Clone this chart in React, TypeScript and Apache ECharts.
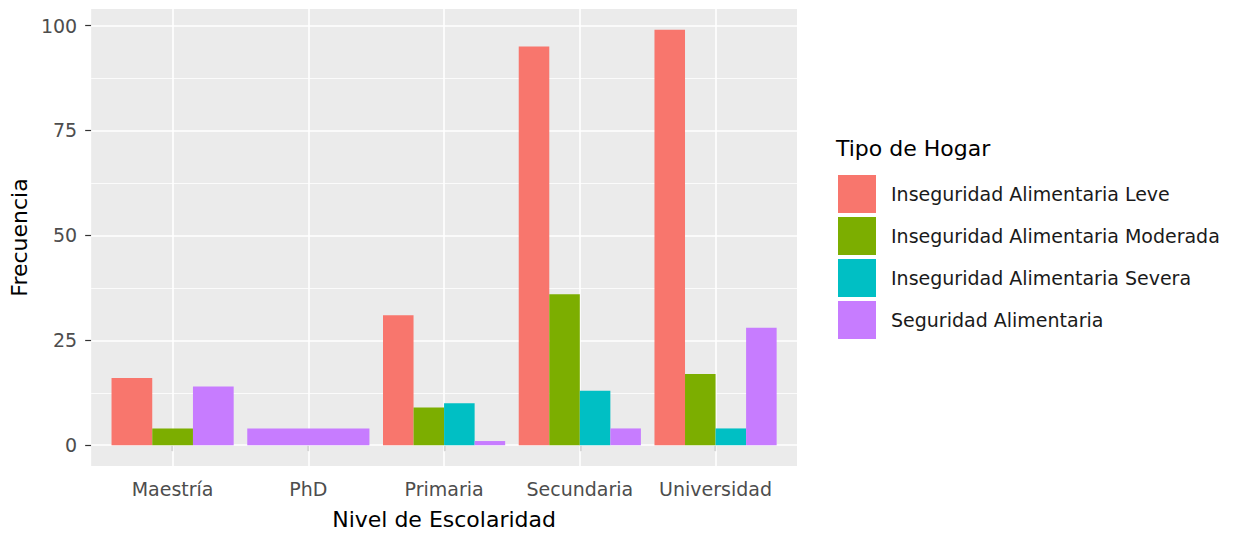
import React, { useEffect, useRef } from "react";
import * as echarts from "echarts";

const categories = ["Maestría", "PhD", "Primaria", "Secundaria", "Universidad"];
const seriesNames = [
  "Inseguridad Alimentaria Leve",
  "Inseguridad Alimentaria Moderada",
  "Inseguridad Alimentaria Severa",
  "Seguridad Alimentaria",
];
const leve: (number | null)[] = [16, null, 31, 95, 99];
const moderada: (number | null)[] = [4, null, 9, 36, 17];
const severa: (number | null)[] = [null, null, 10, 13, 4];
const seguridad: (number | null)[] = [14, 4, 1, 4, 28];
const colors = ["#F8766D", "#7CAE00", "#00BFC4", "#C77CFF"];
const yTicks = [0, 25, 50, 75, 100];
const yMinor = [12.5, 37.5, 62.5, 87.5];
const xTicks = [1, 2, 3, 4, 5];

const FONT = "DejaVu Sans";

export default function App() {
  const ref = useRef<HTMLDivElement>(null);
  useEffect(() => {
    if (!ref.current) return;
    const chart = echarts.init(ref.current, undefined, { renderer: "svg" });
    const all = [leve, moderada, severa, seguridad];
    // dodge slots per category (ggplot position_dodge)
    const buildData = (si: number) => {
      const out: any[] = [];
      categories.forEach((_, ci) => {
        const v = all[si][ci];
        if (v === null) return;
        const present = all.map((a) => a[ci] !== null);
        const n = present.filter(Boolean).length;
        let slot = 0;
        for (let k = 0; k < si; k++) if (present[k]) slot++;
        out.push([ci + 1, v, slot, n]);
      });
      return out;
    };
    const renderItem = (params: any, api: any) => {
      const x = api.value(0);
      const y = api.value(1);
      const slot = api.value(2);
      const n = api.value(3);
      const base = api.coord([x, 0]);
      const top = api.coord([x, y]);
      const band = api.size([1, 0])[0];
      const total = band * 0.9;
      const w = total / n;
      const x0 = base[0] - total / 2 + slot * w;
      return {
        type: "rect",
        shape: { x: x0, y: top[1], width: w, height: base[1] - top[1] },
        style: { fill: api.visual("color") },
      };
    };
    const gridLineSeries = {
      type: "line",
      data: [],
      z: 1,
      silent: true,
      markLine: {
        z: 1,
        silent: true,
        symbol: ["none", "none"],
        label: { show: false },
        animation: false,
        data: [
          ...yMinor.map((v) => ({ yAxis: v, lineStyle: { color: "#FFFFFF", width: 0.8, type: "solid" } })),
          ...yTicks.map((v) => ({ yAxis: v, lineStyle: { color: "#FFFFFF", width: 1.6, type: "solid" } })),
          ...xTicks.map((v) => ({ xAxis: v, lineStyle: { color: "#FFFFFF", width: 1.6, type: "solid" } })),
        ],
      },
    };
    const option: any = {
      animation: false,
      textStyle: { fontFamily: FONT },
      title: {
        text: "Tipo de Hogar",
        left: 836,
        top: 137,
        padding: 0,
        textStyle: { fontFamily: FONT, fontSize: 22, fontWeight: "normal", color: "#000000" },
      },
      legend: {
        orient: "vertical",
        left: 838,
        top: 175,
        padding: 0,
        itemWidth: 38,
        itemHeight: 38,
        itemGap: 4,
        icon: "rect",
        data: seriesNames,
        textStyle: { fontFamily: FONT, fontSize: 19, color: "#1A1A1A", padding: [0, 0, 0, 10] },
      },
      grid: {
        left: 90,
        top: 9,
        width: 707,
        height: 457,
        show: true,
        backgroundColor: "#EBEBEB",
        borderWidth: 0,
      },
      xAxis: {
        type: "value",
        min: 0.4,
        max: 5.6,
        name: "Nivel de Escolaridad",
        nameLocation: "middle",
        nameGap: 42,
        nameTextStyle: { fontFamily: FONT, fontSize: 22, color: "#000000" },
        axisLine: { show: false },
        splitLine: { show: false },
        axisTick: { show: true, length: 6, customValues: xTicks, lineStyle: { color: "#333333", width: 1.2 } },
        axisLabel: {
          customValues: xTicks,
          margin: 13,
          fontFamily: FONT,
          fontSize: 19,
          color: "#4D4D4D",
          formatter: (v: number) => categories[Math.round(v) - 1] ?? "",
        },
      },
      yAxis: {
        type: "value",
        min: -4.95,
        max: 103.95,
        name: "Frecuencia",
        nameLocation: "middle",
        nameGap: 58,
        nameTextStyle: { fontFamily: FONT, fontSize: 22, color: "#000000" },
        axisLine: { show: false },
        splitLine: { show: false },
        axisTick: { show: true, length: 6, customValues: yTicks, lineStyle: { color: "#333333", width: 1.2 } },
        axisLabel: {
          customValues: yTicks,
          margin: 14,
          fontFamily: FONT,
          fontSize: 19,
          color: "#4D4D4D",
        },
      },
      series: [
        gridLineSeries,
        ...seriesNames.map((name, si) => ({
          type: "custom",
          name,
          z: 10,
          color: colors[si],
          itemStyle: { color: colors[si] },
          encode: { x: 0, y: 1 },
          data: buildData(si),
          renderItem,
        })),
      ],
    };
    chart.setOption(option);
    return () => chart.dispose();
  }, []);
  return (
    <div
      ref={ref}
      style={{ position: "absolute", left: 0, top: 0, width: 1248, height: 537, background: "#FFFFFF" }}
    />
  );
}
